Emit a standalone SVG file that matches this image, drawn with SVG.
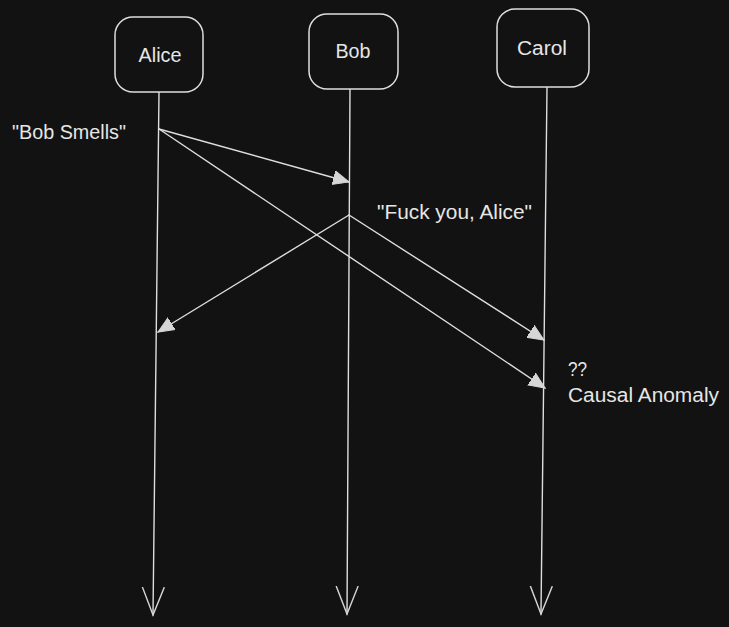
<svg xmlns="http://www.w3.org/2000/svg" width="729" height="627" viewBox="0 0 729 627">
<style>
.box{fill:#121212;stroke:#dedede;stroke-width:1.5}
.line{fill:none;stroke:#dedede;stroke-width:1.4;stroke-linecap:round}
.lbl{fill:#e6e6e6;font-family:"Liberation Sans",Arial,sans-serif;font-size:20px}
.c{text-anchor:middle}
</style>
<defs>
<marker id="tri" markerUnits="userSpaceOnUse" markerWidth="20" markerHeight="20" refX="16" refY="7" orient="auto" viewBox="0 0 20 14">
<path d="M0,0 L16,7 L0,14 Z" fill="#d6d6d6" stroke="#d6d6d6" stroke-width="1"/>
</marker>
<marker id="vee" markerUnits="userSpaceOnUse" markerWidth="32" markerHeight="26" refX="28" refY="11" orient="auto" viewBox="0 0 32 22">
<path d="M0,0 L28,11 L0,22" fill="none" stroke="#d6d6d6" stroke-width="1.4"/>
</marker>
</defs>
<rect width="729" height="627" fill="#121212"/>
<g id="connectors">
<line class="line" x1="159" y1="92" x2="153" y2="615" marker-end="url(#vee)"/>
<line class="line" x1="350" y1="89" x2="347" y2="614" marker-end="url(#vee)"/>
<line class="line" x1="547" y1="87" x2="541" y2="614" marker-end="url(#vee)"/>
<line class="line" x1="159" y1="129" x2="349" y2="182" marker-end="url(#tri)"/>
<line class="line" x1="159" y1="129" x2="545" y2="388" marker-end="url(#tri)"/>
<line class="line" x1="349" y1="215" x2="158" y2="332" marker-end="url(#tri)"/>
<line class="line" x1="349" y1="215" x2="544" y2="340" marker-end="url(#tri)"/>
</g>
<g id="alice">
<rect class="box" x="115" y="17" width="88" height="75" rx="18"/>
<text class="lbl c" x="160" y="62" textLength="43" lengthAdjust="spacingAndGlyphs">Alice</text>
</g>
<g id="bob">
<rect class="box" x="309" y="14" width="89" height="75" rx="18"/>
<text class="lbl c" x="353" y="58" textLength="35" lengthAdjust="spacingAndGlyphs">Bob</text>
</g>
<g id="carol">
<rect class="box" x="497" y="9" width="92" height="78" rx="18"/>
<text class="lbl c" x="542" y="55" textLength="50" lengthAdjust="spacingAndGlyphs">Carol</text>
</g>
<g id="labels">
<text class="lbl" x="12" y="139" textLength="114" lengthAdjust="spacingAndGlyphs">"Bob Smells"</text>
<text class="lbl" x="377" y="219" textLength="155" lengthAdjust="spacingAndGlyphs">"Fuck you, Alice"</text>
<text class="lbl" x="568" y="376" textLength="19" lengthAdjust="spacingAndGlyphs">??</text>
<text class="lbl" x="568" y="402" textLength="151" lengthAdjust="spacingAndGlyphs">Causal Anomaly</text>
</g>
</svg>
